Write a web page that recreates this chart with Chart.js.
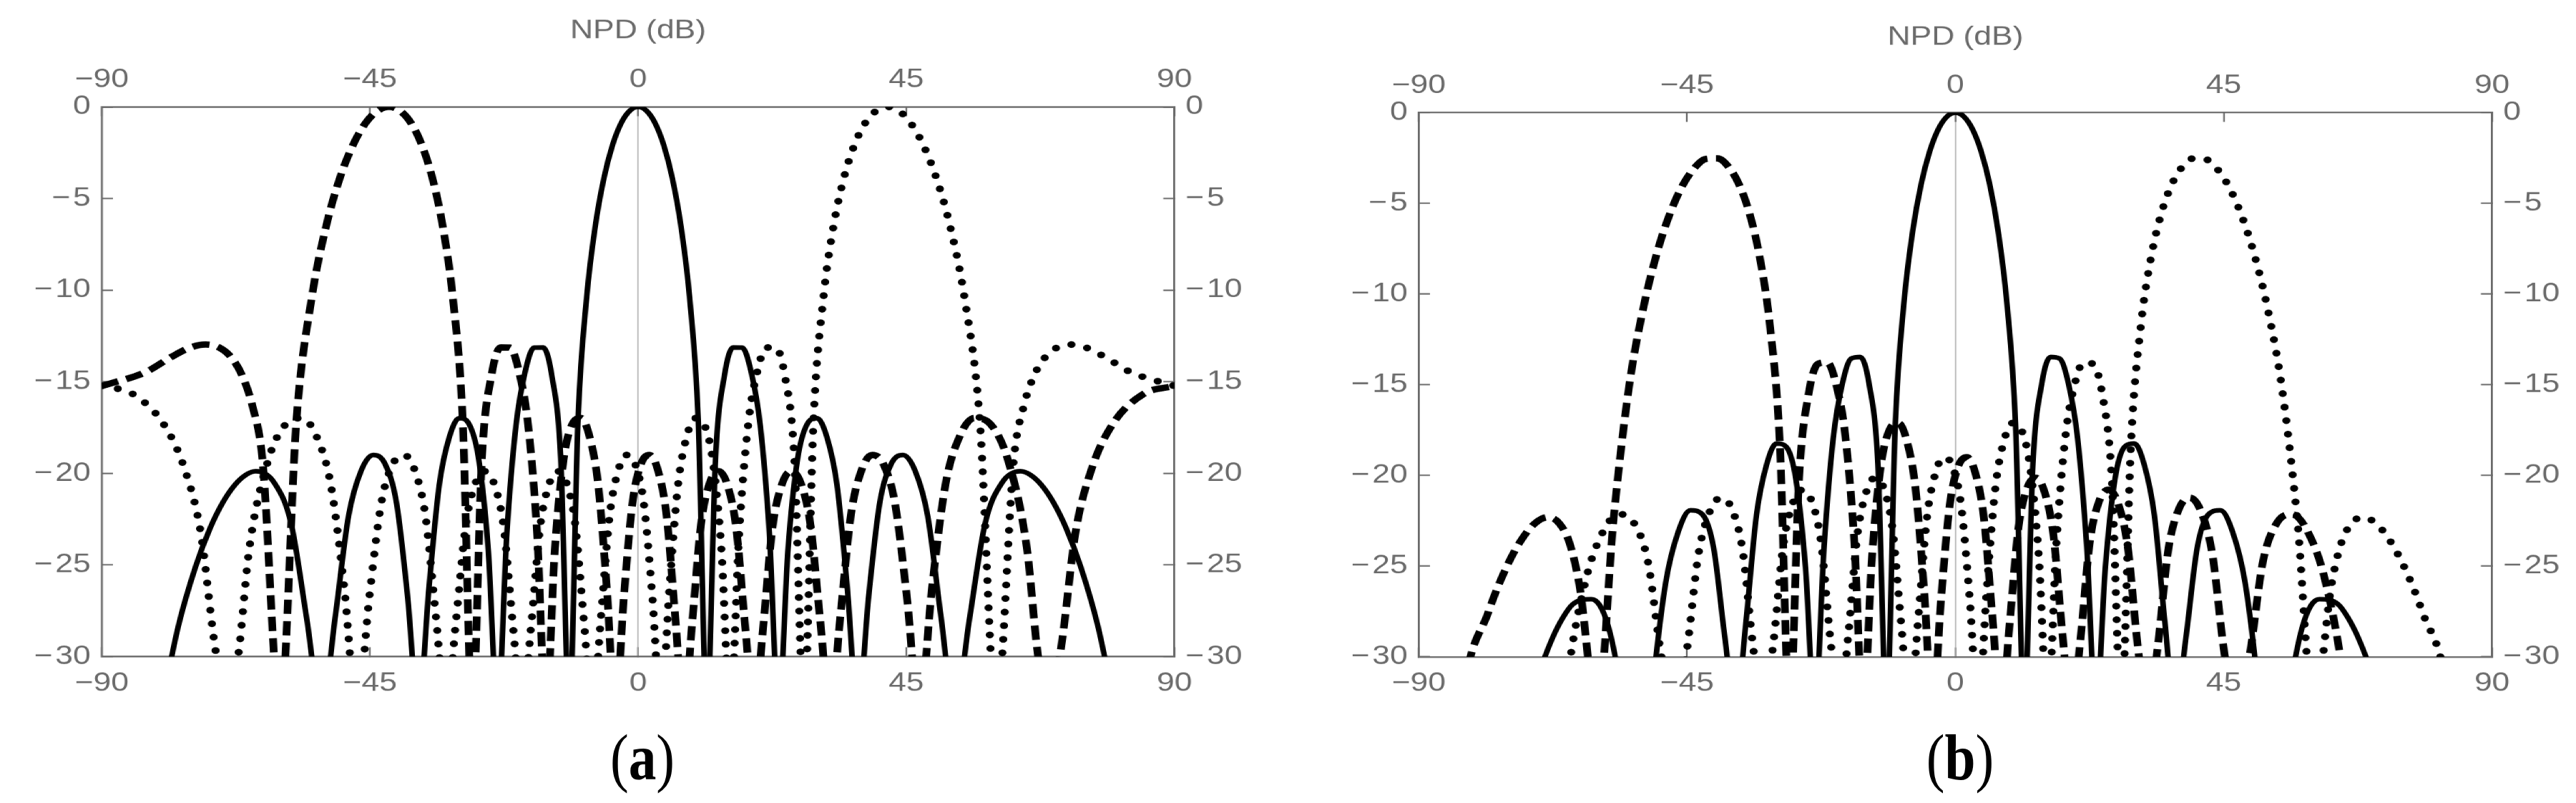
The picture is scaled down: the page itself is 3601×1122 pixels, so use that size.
<!DOCTYPE html>
<html>
<head>
<meta charset="utf-8">
<script src="https://cdn.jsdelivr.net/npm/chart.js@4.4.1/dist/chart.umd.min.js"></script>
<style>
html,body{margin:0;padding:0;background:#fff;overflow:hidden;width:3601px;height:1122px;}
#wrap{position:absolute;left:0;top:0;width:3001px;height:1122px;transform:scaleX(1.2);transform-origin:0 0;}
#wrap canvas{position:absolute;top:0;}
.plab{position:absolute;width:200px;text-align:center;font-family:"Liberation Serif","Times New Roman",serif;font-size:91px;line-height:91px;color:#000;transform:scaleX(0.85);}
.plab b{font-weight:bold;}
</style>
</head>
<body>
<div id="wrap">
  <canvas id="ca" width="1480" height="1122" style="left:0px"></canvas>
  <canvas id="cb" width="1500" height="1122" style="left:1500px"></canvas>
</div>
<div class="plab" id="la" style="left:798px;top:1013px"></div>
<div class="plab" id="lb" style="left:2640px;top:1013px"></div>
<script>
// ---------- data (angles in degrees, levels in dB; values below -30 are outside the view) ----------
const X_TICKS = [-90, -45, 0, 45, 90];
const Y_TICKS = [-30, -25, -20, -15, -10, -5, 0];
const AXIS_TITLE = 'NPD (dB)';
const PANEL_LETTERS = ['a', 'b'];

const ANGLES_SOLID = [-90, -80.93, -77.16, -74.26, -71.81, -69.64, -67.67, -65.85, -64.16, -61.05,
  -58.21, -55.58, -53.13, -50.81, -48.59, -46.47, -44.43, -42.45, -40.54, -38.68,
  -36.87, -35.10, -33.37, -31.67, -30.00, -28.36, -26.74, -25.15, -23.58, -22.02,
  -20.49, -18.97, -17.46, -15.96, -14.48, -13.00, -11.54, -10.08, -8.63, -7.18,
  -5.74, -4.30, -2.87, -1.43, 0,
  1.43, 2.87, 4.30, 5.74, 7.18, 8.63, 10.08, 11.54, 13.00, 14.48,
  15.96, 17.46, 18.97, 20.49, 22.02, 23.58, 25.15, 26.74, 28.36, 30.00,
  31.67, 33.37, 35.10, 36.87, 38.68, 40.54, 42.45, 44.43, 46.47, 48.59,
  50.81, 53.13, 55.58, 58.21, 61.05, 64.16, 65.85, 67.67, 69.64, 71.81,
  74.26, 77.16, 80.93, 90];

const SOLID_A = [-45, -34.19, -28.34, -25.09, -22.98, -21.56, -20.63, -20.09, -19.89, -20.52,
  -22.77, -28.01, -33, -27.79, -22.32, -19.85, -19.00, -19.50, -21.63, -26.74,
  -33, -26.24, -20.63, -18.01, -16.99, -17.32, -19.26, -24.18, -33, -23.24,
  -17.37, -14.47, -13.14, -13.13, -14.67, -19.13, -33, -17.02, -10.37, -6.49,
  -3.89, -2.09, -0.90, -0.22, 0,
  -0.22, -0.90, -2.09, -3.89, -6.49, -10.37, -17.02, -33, -19.13, -14.67,
  -13.13, -13.14, -14.47, -17.37, -23.24, -33, -24.18, -19.26, -17.32, -16.99,
  -18.01, -20.63, -26.24, -33, -26.74, -21.63, -19.50, -19.00, -19.85, -22.32,
  -27.79, -33, -28.01, -22.77, -20.52, -19.89, -20.09, -20.63, -21.56, -22.98,
  -25.09, -28.34, -34.19, -45];

const SOLID_B = [-60, -50.24, -41.40, -36.42, -33.09, -30.73, -29.03, -27.85, -27.10, -26.82,
  -28.33, -32.97, -40, -31.78, -25.91, -23.09, -21.92, -22.14, -24.01, -28.89,
  -33, -27.99, -22.20, -19.41, -18.24, -18.43, -20.24, -25.04, -33, -23.90,
  -17.94, -14.95, -13.55, -13.47, -14.95, -19.35, -33, -17.15, -10.47, -6.56,
  -3.93, -2.12, -0.91, -0.22, 0,
  -0.22, -0.91, -2.12, -3.93, -6.56, -10.47, -17.15, -33, -19.35, -14.95,
  -13.47, -13.55, -14.95, -17.94, -23.90, -33, -25.04, -20.24, -18.43, -18.24,
  -19.41, -22.20, -27.99, -33, -28.89, -24.01, -22.14, -21.92, -23.09, -25.91,
  -31.78, -40, -32.97, -28.33, -26.82, -27.10, -27.85, -29.03, -30.73, -33.09,
  -36.42, -41.40, -50.24, -60];

const ANGLES_DASHED = [-90, -82.60, -78.28, -75.17, -72.59, -70.33, -68.31, -66.44, -64.71, -63.08,
  -60.07, -57.32, -54.75, -52.34, -50.06, -47.87, -45.78, -43.76, -41.81, -39.92,
  -38.07, -36.28, -34.52, -32.80, -31.11, -29.45, -27.82, -26.21, -24.62, -23.06,
  -21.51, -19.98, -18.46, -16.96, -15.47, -13.98, -12.51, -11.05, -9.59, -8.14,
  -6.70, -5.26, -3.82, -2.39, -0.95, 0.48, 1.91, 3.34, 4.78, 6.22,
  7.66, 9.11, 10.56, 12.02, 13.49, 14.97, 16.46, 17.96, 19.47, 21.00,
  22.54, 24.10, 25.68, 27.28, 28.90, 30.55, 32.23, 33.94, 35.69, 37.47,
  39.30, 41.17, 43.10, 45.10, 47.17, 49.32, 51.57, 53.93, 56.44, 59.13,
  62.05, 65.28, 67.05, 68.96, 71.06, 73.40, 76.13, 79.52, 84.77, 90];

const DASHED_A = [-15.23, -14.47, -13.64, -13.14, -12.97, -13.13, -13.66, -14.67, -16.34, -19.13,
  -33, -17.02, -10.37, -6.49, -3.89, -2.09, -0.90, -0.22, 0, -0.22,
  -0.90, -2.09, -3.89, -6.49, -10.37, -17.02, -33, -19.13, -14.67, -13.13,
  -13.14, -14.47, -17.37, -23.24, -33, -24.18, -19.26, -17.32, -16.99, -18.01,
  -20.63, -26.24, -33, -26.74, -21.63, -19.50, -19.00, -19.85, -22.32, -27.79,
  -33, -28.01, -22.77, -20.52, -19.89, -20.63, -22.98, -28.34, -33, -28.34,
  -22.98, -20.63, -19.89, -20.52, -22.77, -28.01, -33, -27.79, -22.32, -19.85,
  -19.00, -19.50, -21.63, -26.74, -33, -26.24, -20.63, -18.01, -16.99, -17.32,
  -19.26, -24.18, -29.81, -33, -29.34, -23.24, -19.74, -17.37, -15.68, -15.23];

const DASHED_B = [-60, -32.27, -27.49, -24.97, -23.45, -22.59, -22.30, -22.64, -23.73, -26.01,
  -33, -22.37, -15.14, -10.77, -7.74, -5.56, -4.03, -3.05, -2.55, -2.52,
  -2.98, -3.96, -5.57, -8.00, -11.72, -18.22, -33, -20.07, -15.50, -13.85,
  -13.77, -15.01, -17.83, -23.63, -33, -24.44, -19.47, -17.48, -17.11, -18.10,
  -20.69, -26.28, -33, -26.75, -21.63, -19.50, -19.00, -19.86, -22.35, -27.84,
  -33, -28.12, -22.92, -20.71, -20.13, -20.93, -23.34, -28.77, -33, -28.94,
  -23.67, -21.42, -20.79, -21.54, -23.93, -29.31, -33, -29.41, -24.13, -21.86,
  -21.23, -21.97, -24.36, -29.77, -33, -29.96, -24.76, -22.61, -22.14, -23.12,
  -25.84, -31.75, -37.99, -45, -39.11, -34.12, -32.14, -32.18, -36.48, -60];

const ANGLES_DOTTED = [-90, -84.77, -79.52, -76.13, -73.40, -71.06, -68.96, -67.05, -65.28, -62.05,
  -59.13, -56.44, -53.93, -51.57, -49.32, -47.17, -45.10, -43.10, -41.17, -39.30,
  -37.47, -35.69, -33.94, -32.23, -30.55, -28.90, -27.28, -25.68, -24.10, -22.54,
  -21.00, -19.47, -17.96, -16.46, -14.97, -13.49, -12.02, -10.56, -9.11, -7.66,
  -6.22, -4.78, -3.34, -1.91, -0.48, 0.95, 2.39, 3.82, 5.26, 6.70,
  8.14, 9.59, 11.05, 12.51, 13.98, 15.47, 16.96, 18.46, 19.98, 21.51,
  23.06, 24.62, 26.21, 27.82, 29.45, 31.11, 32.80, 34.52, 36.28, 38.07,
  39.92, 41.81, 43.76, 45.78, 47.87, 50.06, 52.34, 54.75, 57.32, 60.07,
  63.08, 64.71, 66.44, 68.31, 70.33, 72.59, 75.17, 78.28, 82.60, 90];

const DOTTED_A = [-15.23, -15.68, -17.37, -19.74, -23.24, -29.34, -33, -29.81, -24.18, -19.26,
  -17.32, -16.99, -18.01, -20.63, -26.24, -33, -26.74, -21.63, -19.50, -19.00,
  -19.85, -22.32, -27.79, -33, -28.01, -22.77, -20.52, -19.89, -20.63, -22.98,
  -28.34, -33, -28.34, -22.98, -20.63, -19.89, -20.52, -22.77, -28.01, -33,
  -27.79, -22.32, -19.85, -19.00, -19.50, -21.63, -26.74, -33, -26.24, -20.63,
  -18.01, -16.99, -17.32, -19.26, -24.18, -33, -23.24, -17.37, -14.47, -13.14,
  -13.13, -14.67, -19.13, -33, -17.02, -10.37, -6.49, -3.89, -2.09, -0.90,
  -0.22, 0, -0.22, -0.90, -2.09, -3.89, -6.49, -10.37, -17.02, -33,
  -19.13, -16.34, -14.67, -13.66, -13.13, -12.97, -13.14, -13.64, -14.47, -15.23];

const DOTTED_B = [-60, -36.48, -32.18, -32.14, -34.12, -39.11, -45, -37.99, -31.75, -25.84,
  -23.12, -22.14, -22.61, -24.76, -29.96, -33, -29.77, -24.36, -21.97, -21.23,
  -21.86, -24.13, -29.41, -33, -29.31, -23.93, -21.54, -20.79, -21.42, -23.67,
  -28.94, -33, -28.77, -23.34, -20.93, -20.13, -20.71, -22.92, -28.12, -33,
  -27.84, -22.35, -19.86, -19.00, -19.50, -21.63, -26.75, -33, -26.28, -20.69,
  -18.10, -17.11, -17.48, -19.47, -24.44, -33, -23.63, -17.83, -15.01, -13.77,
  -13.85, -15.50, -20.07, -33, -18.22, -11.72, -8.00, -5.57, -3.96, -2.98,
  -2.52, -2.55, -3.05, -4.03, -5.56, -7.74, -10.77, -15.14, -22.37, -33,
  -26.01, -23.73, -22.64, -22.30, -22.59, -23.45, -24.97, -27.49, -32.27, -60];

// ---------- styling ----------
const GREY = '#6b6b6b';
const ZERO_LINE = '#a8a8a8';
const FONT = {family: '"Liberation Sans", Arial, Helvetica, sans-serif', size: 37, lineHeight: 1};

const fmtX = v => v < 0 ? '\u2212' + (-v) : String(v);
const fmtY = v => v < 0 ? '\u2212\u200A' + (-v) : String(v);
const pts = (xs, ys) => xs.map((x, i) => ({x: x, y: ys[i]}));

function xAxis(pos, g) {
  const isTop = pos === 'top';
  return {
    type: 'linear', position: pos, min: -90, max: 90,
    afterBuildTicks: s => { s.ticks = X_TICKS.map(v => ({value: v})); },
    afterFit: s => { s.height = isTop ? g.top : g.bottom; },
    ticks: {color: GREY, font: FONT, padding: 32, maxRotation: 0, minRotation: 0, autoSkip: false,
      callback: v => fmtX(v)},
    grid: {
      drawOnChartArea: isTop, drawTicks: true, tickLength: -13, tickWidth: 2, tickColor: GREY,
      color: c => (c.tick && c.tick.value === 0) ? ZERO_LINE : 'rgba(0,0,0,0)',
      lineWidth: c => (c.tick && c.tick.value === 0) ? 1.3 : 0
    },
    border: {display: true, color: GREY, width: 2.3},
    title: isTop ? {display: true, text: AXIS_TITLE, color: GREY, font: FONT,
      padding: {top: g.titlePad, bottom: 0}} : {display: false}
  };
}

function yAxis(pos, g) {
  return {
    type: 'linear', position: pos, min: -30, max: 0,
    afterBuildTicks: s => { s.ticks = Y_TICKS.map(v => ({value: v})); },
    afterFit: s => { s.width = pos === 'left' ? g.left : g.right; },
    ticks: {color: GREY, font: FONT, padding: 26, autoSkip: false, callback: v => fmtY(v)},
    grid: {drawOnChartArea: false, drawTicks: true, tickLength: -13, tickWidth: 2, tickColor: GREY},
    border: {display: true, color: GREY, width: 2.3}
  };
}

function makePanel(id, g, solid, dashed, dotted) {
  const common = {pointRadius: 0, pointHoverRadius: 0, fill: false, borderColor: '#000',
    cubicInterpolationMode: 'monotone', clip: 0, xAxisID: 'x', yAxisID: 'y'};
  return new Chart(document.getElementById(id), {
    type: 'line',
    data: {
      datasets: [
        Object.assign({label: 'solid', data: pts(ANGLES_SOLID, solid), borderWidth: 6.5,
          borderCapStyle: 'round', borderJoinStyle: 'round'}, common),
        Object.assign({label: 'dashed', data: pts(ANGLES_DASHED, dashed), borderWidth: 9,
          borderDash: [20, 10], borderCapStyle: 'butt', borderJoinStyle: 'round'}, common),
        Object.assign({label: 'dotted', data: pts(ANGLES_DOTTED, dotted), borderWidth: 9.5,
          borderDash: [0, 19], borderCapStyle: 'round', borderJoinStyle: 'round'}, common)
      ]
    },
    options: {
      responsive: false, animation: false, devicePixelRatio: 1.2, events: [],
      layout: {padding: 0},
      plugins: {legend: {display: false}, title: {display: false}, tooltip: {enabled: false}},
      scales: {
        x: xAxis('bottom', g),
        x2: xAxis('top', g),
        y: yAxis('left', g),
        y2: yAxis('right', g)
      }
    }
  });
}

makePanel('ca', {left: 118.6, right: 111.9, top: 149.3, bottom: 205, titlePad: 25}, SOLID_A, DASHED_A, DOTTED_A);
makePanel('cb', {left: 152.75, right: 97, top: 157.3, bottom: 204.5, titlePad: 34}, SOLID_B, DASHED_B, DOTTED_B);

document.getElementById('la').innerHTML = '(<b>' + PANEL_LETTERS[0] + '</b>)';
document.getElementById('lb').innerHTML = '(<b>' + PANEL_LETTERS[1] + '</b>)';
</script>
</body>
</html>
